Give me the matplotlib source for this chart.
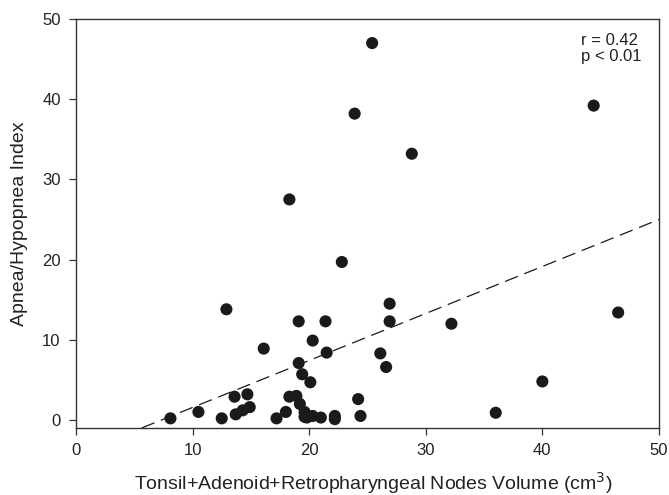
import numpy as np
import matplotlib
matplotlib.use("Agg")
from matplotlib import pyplot as plt

plt.rcParams['font.family'] = ['Liberation Sans', 'DejaVu Sans']

# volume (cm3) vs apnea/hypopnea index
volume = [25.4, 23.9, 28.8, 18.3, 22.8, 44.4, 46.5, 32.2, 40.0, 36.0,
          26.9, 26.9, 26.1, 26.6, 12.9, 19.1, 21.4, 16.1, 20.3, 21.5,
          19.1, 19.4, 20.1, 13.6, 14.7, 13.7, 14.3, 14.9, 8.1, 10.5,
          12.5, 17.2, 18.0, 18.3, 18.9, 19.2, 19.6, 19.6, 20.3, 21.0,
          22.2, 22.2, 24.2, 24.4, 19.8]
ahi = [47.0, 38.2, 33.2, 27.5, 19.7, 39.2, 13.4, 12.0, 4.8, 0.9,
       14.5, 12.3, 8.3, 6.6, 13.8, 12.3, 12.3, 8.9, 9.9, 8.4,
       7.1, 5.7, 4.7, 2.9, 3.2, 0.7, 1.2, 1.6, 0.2, 1.0,
       0.2, 0.2, 1.0, 2.9, 3.0, 2.0, 1.0, 0.4, 0.5, 0.3,
       0.5, 0.1, 2.6, 0.5, 0.3]

# regression line as drawn
fit_intercept = -4.3
fit_slope = 0.586

stats_text = "r = 0.42\np < 0.01"
xlabel = "Tonsil+Adenoid+Retropharyngeal Nodes Volume (cm$^3$)"
ylabel = "Apnea/Hypopnea Index"

fig = plt.figure(figsize=(6.69, 4.95), dpi=100)
ax = fig.add_axes([0.1136, 0.1354, 0.8714, 0.8262])

ymin = -1
x0 = (ymin - fit_intercept) / fit_slope
xs = np.array([x0, 50])
ax.plot(xs, fit_intercept + fit_slope * xs, color='#1a1a1a', lw=0.9,
        dashes=(11, 5.5), zorder=2)

ax.scatter(volume, ahi, s=76, color='#1a1a1a', edgecolors='none', zorder=3)

ax.set_xlim(0, 50)
ax.set_ylim(ymin, 50)
ax.set_xticks(range(0, 51, 10))
ax.set_yticks(range(0, 51, 10))
ax.tick_params(direction='out', length=5, width=0.9, color='#333333',
               labelsize=12, labelcolor='#222222', pad=6)
for s in ax.spines.values():
    s.set_color('#333333')
    s.set_linewidth(1.0)

ax.set_xlabel(xlabel, fontsize=14, color='#222222')
ax.set_ylabel(ylabel, fontsize=14, color='#222222')
ax.xaxis.set_label_coords(0.51, -0.103)
ax.yaxis.set_label_coords(-0.082, 0.5)

ax.text(43.3, 48.3, stats_text, fontsize=12, color='#222222',
        va='top', ha='left', linespacing=1.15)

fig.savefig("out.png", dpi=100)
